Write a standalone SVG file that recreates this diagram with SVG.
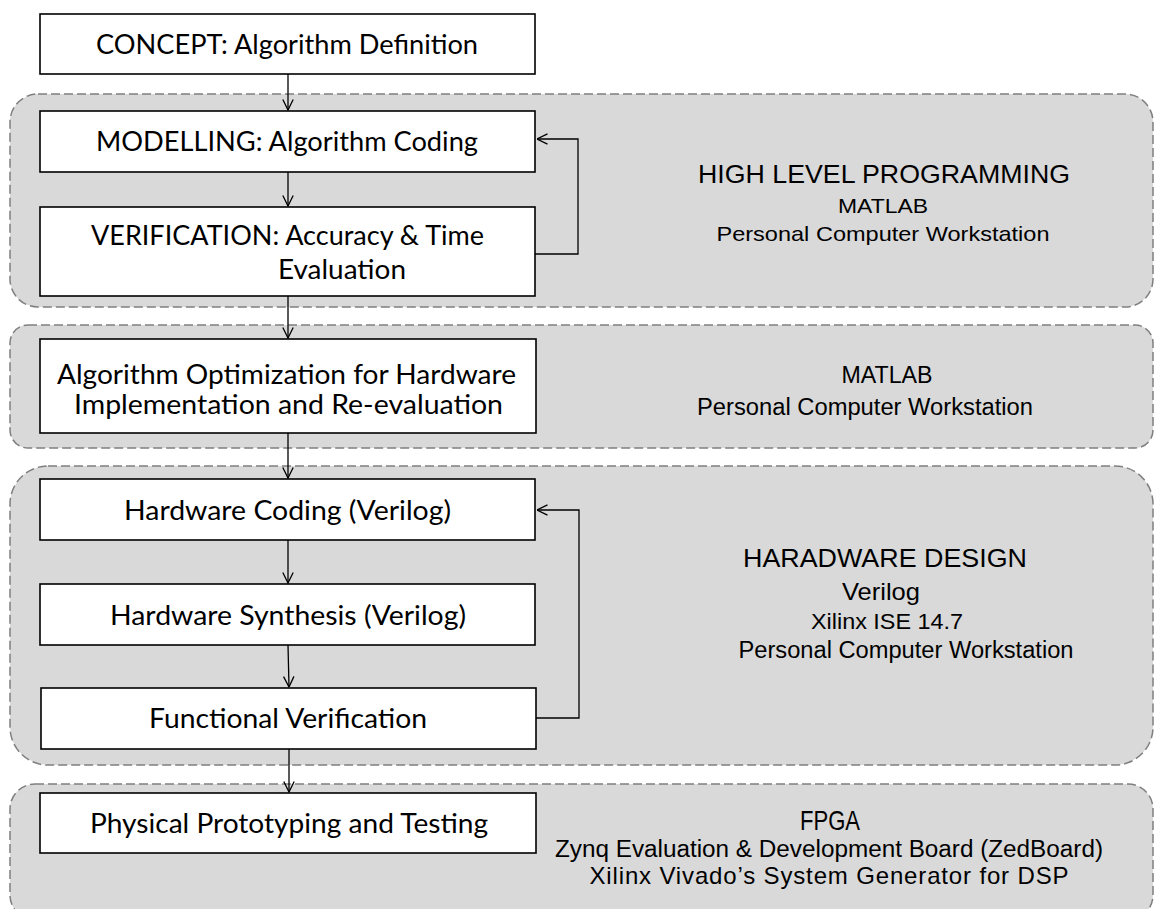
<svg xmlns="http://www.w3.org/2000/svg" width="1155" height="909" viewBox="0 0 1155 909">
<style>
.grp{fill:#d9d9d9;stroke:#7f7f7f;stroke-width:1.5;stroke-dasharray:9,4}
.box{fill:#ffffff;stroke:#000000;stroke-width:1.6}
.nt{font-family:Lato,"Open Sans","Liberation Sans",sans-serif;font-size:26px;fill:#000;text-anchor:middle}
.rt{font-family:"Liberation Sans",Arial,sans-serif;fill:#000;text-anchor:middle}
.con{fill:none;stroke:#000;stroke-width:1.3}
</style>
<defs>
<marker id="arr" viewBox="0 0 12 12" refX="11.5" refY="6" markerWidth="12" markerHeight="12" markerUnits="userSpaceOnUse" orient="auto">
<path d="M1,0.8 L11.5,6 L1,11.2" fill="none" stroke="#000" stroke-width="1.3"/>
</marker>
</defs>
<rect width="1155" height="909" fill="#ffffff"/>
<g id="group-high-level">
<rect class="grp" x="10" y="94" width="1143" height="213" rx="28"/>
<text class="rt" x="884" y="183" font-size="25" textLength="372" lengthAdjust="spacingAndGlyphs">HIGH LEVEL PROGRAMMING</text>
<text class="rt" x="883" y="213" font-size="21" textLength="90" lengthAdjust="spacingAndGlyphs">MATLAB</text>
<text class="rt" x="883" y="241" font-size="21" textLength="333" lengthAdjust="spacingAndGlyphs">Personal Computer Workstation</text>
</g>
<g id="group-optimization">
<rect class="grp" x="10" y="325" width="1143" height="123" rx="18"/>
<text class="rt" x="887" y="383" font-size="23" textLength="91" lengthAdjust="spacingAndGlyphs">MATLAB</text>
<text class="rt" x="865" y="415" font-size="23" textLength="336" lengthAdjust="spacingAndGlyphs">Personal Computer Workstation</text>
</g>
<g id="group-hardware">
<rect class="grp" x="10" y="466" width="1143" height="299" rx="38"/>
<text class="rt" x="885" y="567" font-size="25" textLength="284" lengthAdjust="spacingAndGlyphs">HARADWARE DESIGN</text>
<text class="rt" x="881" y="600" font-size="24" textLength="78" lengthAdjust="spacingAndGlyphs">Verilog</text>
<text class="rt" x="887" y="629" font-size="22" textLength="152" lengthAdjust="spacingAndGlyphs">Xilinx ISE 14.7</text>
<text class="rt" x="906" y="658" font-size="23" textLength="335" lengthAdjust="spacingAndGlyphs">Personal Computer Workstation</text>
</g>
<g id="group-fpga">
<rect class="grp" x="10" y="784" width="1143" height="136" rx="25"/>
<text class="rt" x="830" y="830" font-size="28" textLength="60" lengthAdjust="spacingAndGlyphs">FPGA</text>
<text class="rt" x="829" y="857" font-size="23" textLength="548" lengthAdjust="spacingAndGlyphs">Zynq Evaluation &amp; Development Board (ZedBoard)</text>
<text class="rt" x="829" y="884" font-size="24" textLength="479">Xilinx Vivado’s System Generator for DSP</text>
</g>
<g id="node-concept">
<rect class="box" x="40" y="14" width="495" height="60"/>
<text class="nt" x="287" y="54" textLength="382" lengthAdjust="spacingAndGlyphs">CONCEPT: Algorithm Definition</text>
</g>
<g id="node-modelling">
<rect class="box" x="40" y="111" width="495" height="61"/>
<text class="nt" x="287" y="151" textLength="382" lengthAdjust="spacingAndGlyphs">MODELLING: Algorithm Coding</text>
</g>
<g id="node-verification">
<rect class="box" x="40" y="207" width="495" height="89"/>
<text class="nt" x="287.5" y="245" textLength="393" lengthAdjust="spacingAndGlyphs">VERIFICATION: Accuracy &amp; Time</text>
<text class="nt" x="342" y="279" textLength="128" lengthAdjust="spacingAndGlyphs">Evaluation</text>
</g>
<g id="node-optimization">
<rect class="box" x="40" y="339" width="496" height="94"/>
<text class="nt" x="286.5" y="384" font-size="24" textLength="459" lengthAdjust="spacingAndGlyphs">Algorithm Optimization for Hardware</text>
<text class="nt" x="288.5" y="414" font-size="24" textLength="429" lengthAdjust="spacingAndGlyphs">Implementation and Re-evaluation</text>
</g>
<g id="node-hw-coding">
<rect class="box" x="40" y="479" width="495" height="61"/>
<text class="nt" x="287.5" y="520" textLength="327" lengthAdjust="spacingAndGlyphs">Hardware Coding (Verilog)</text>
</g>
<g id="node-hw-synthesis">
<rect class="box" x="40" y="584" width="495" height="61"/>
<text class="nt" x="288" y="625" textLength="356" lengthAdjust="spacingAndGlyphs">Hardware Synthesis (Verilog)</text>
</g>
<g id="node-functional">
<rect class="box" x="41" y="688" width="495" height="61"/>
<text class="nt" x="288" y="728" textLength="278" lengthAdjust="spacingAndGlyphs">Functional Verification</text>
</g>
<g id="node-physical">
<rect class="box" x="40" y="793" width="496" height="60"/>
<text class="nt" x="289" y="833" textLength="398" lengthAdjust="spacingAndGlyphs">Physical Prototyping and Testing</text>
</g>
<g id="connectors">
<line class="con" x1="288" y1="74" x2="288" y2="110" marker-end="url(#arr)"/>
<line class="con" x1="288" y1="172" x2="288" y2="206" marker-end="url(#arr)"/>
<line class="con" x1="288" y1="296" x2="288" y2="338" marker-end="url(#arr)"/>
<line class="con" x1="288" y1="433" x2="288" y2="478" marker-end="url(#arr)"/>
<line class="con" x1="288" y1="540" x2="288" y2="583" marker-end="url(#arr)"/>
<line class="con" x1="288" y1="645" x2="289" y2="687" marker-end="url(#arr)"/>
<line class="con" x1="289" y1="749" x2="289" y2="792" marker-end="url(#arr)"/>
<polyline class="con" points="535,254 578,254 578,139 537,139" marker-end="url(#arr)"/>
<polyline class="con" points="536,718 579,718 579,510 537,510" marker-end="url(#arr)"/>
</g>
</svg>
